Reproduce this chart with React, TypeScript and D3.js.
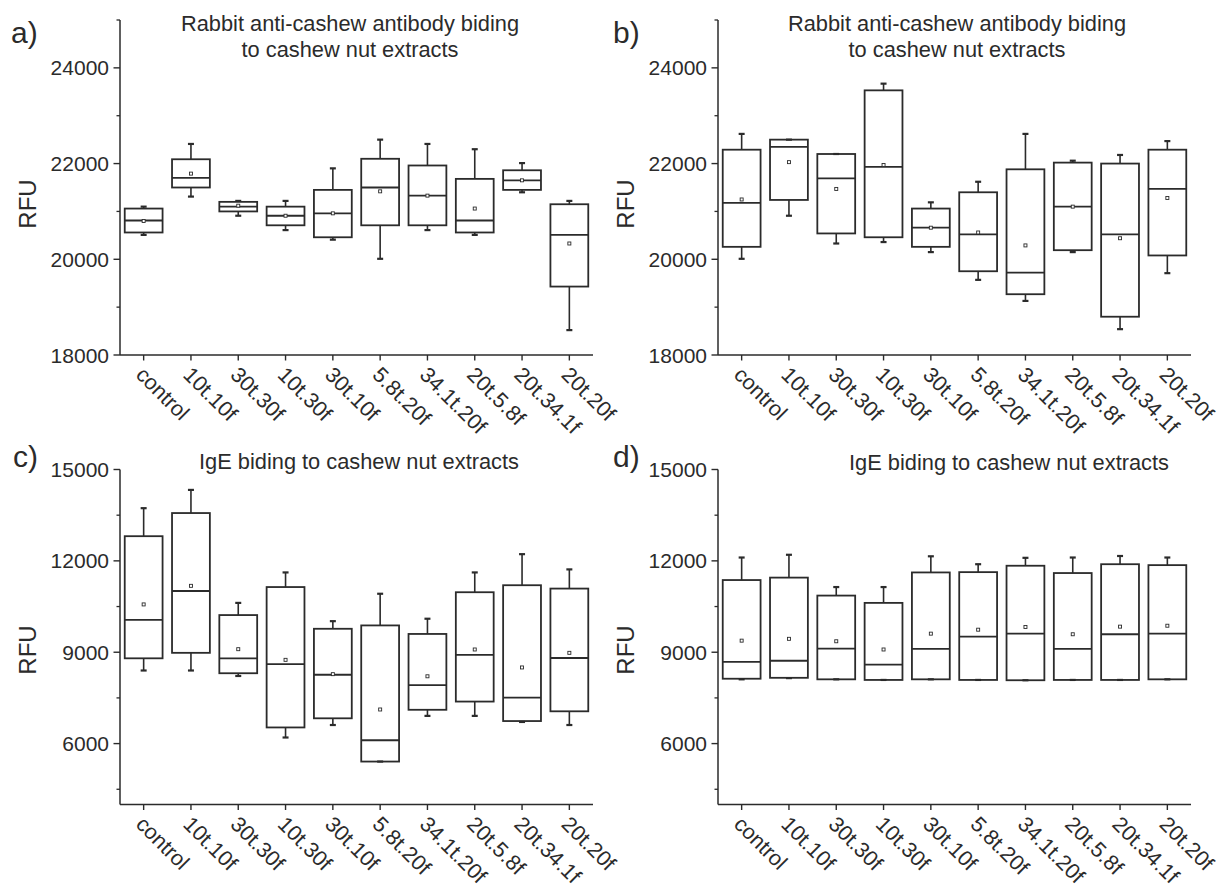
import React from "react";
import * as d3 from "d3";

const categories = [
  "control",
  "10t.10f",
  "30t.30f",
  "10t.30f",
  "30t.10f",
  "5.8t.20f",
  "34.1t.20f",
  "20t.5.8f",
  "20t.34.1f",
  "20t.20f",
];

// panel a - rabbit antibody
const aMax = [21100, 22410, 21220, 21220, 21900, 22500, 22410, 22300, 22010, 21220];
const aQ3 = [21060, 22090, 21200, 21100, 21450, 22100, 21960, 21680, 21860, 21150];
const aMed = [20810, 21700, 21100, 20910, 20960, 21500, 21330, 20810, 21650, 20510];
const aQ1 = [20560, 21500, 21000, 20710, 20460, 20710, 20710, 20560, 21450, 19430];
const aMin = [20510, 21310, 20910, 20610, 20410, 20010, 20610, 20510, 21400, 18520];
const aMean = [20800, 21790, 21120, 20910, 20960, 21420, 21330, 21060, 21650, 20330];

// panel b - rabbit antibody
const bMax = [22620, 22500, 22200, 23670, 21190, 21620, 22620, 22060, 22180, 22470];
const bQ3 = [22290, 22500, 22200, 23530, 21060, 21400, 21880, 22020, 22000, 22290];
const bMed = [21180, 22350, 21690, 21930, 20660, 20520, 19720, 21100, 20520, 21470];
const bQ1 = [20260, 21240, 20540, 20460, 20260, 19750, 19270, 20190, 18800, 20080];
const bMin = [20010, 20910, 20330, 20360, 20150, 19570, 19130, 20150, 18540, 19710];
const bMean = [21250, 22030, 21470, 21970, 20660, 20560, 20290, 21100, 20440, 21280];

// panel c - IgE
const cMax = [13730, 14330, 10620, 11620, 10020, 10920, 10100, 11620, 12220, 11720];
const cQ3 = [12810, 13570, 10220, 11140, 9770, 9880, 9600, 10970, 11200, 11090];
const cMed = [10060, 11010, 8800, 8610, 8260, 6110, 7920, 8910, 7510, 8810];
const cQ1 = [8800, 8980, 8310, 6530, 6830, 5410, 7110, 7380, 6740, 7060];
const cMin = [8400, 8400, 8220, 6200, 6610, 5410, 6910, 6910, 6710, 6610];
const cMean = [10570, 11180, 9100, 8750, 8280, 7120, 8210, 9090, 8500, 8980];

// panel d - IgE
const dMax = [12110, 12200, 11140, 11140, 12150, 11890, 12100, 12110, 12160, 12110];
const dQ3 = [11370, 11450, 10860, 10620, 11620, 11630, 11840, 11600, 11890, 11860];
const dMed = [8680, 8720, 9120, 8590, 9110, 9510, 9610, 9110, 9590, 9610];
const dQ1 = [8130, 8160, 8110, 8090, 8110, 8090, 8080, 8090, 8090, 8110];
const dMin = [8110, 8150, 8110, 8090, 8110, 8090, 8080, 8090, 8090, 8110];
const dMean = [9380, 9440, 9360, 9090, 9610, 9740, 9830, 9590, 9840, 9870];

const rabbitTicks = [18000, 20000, 22000, 24000];
const rabbitMinor = [19000, 21000, 23000, 25000];
const igeTicks = [6000, 9000, 12000, 15000];
const igeMinor = [4500, 7500, 10500, 13500];

const rabbitTitle = ["Rabbit anti-cashew antibody biding", "to cashew nut extracts"];
const igeTitle = ["IgE biding to cashew nut extracts"];

const FONT = "'Liberation Sans', Arial, sans-serif";
const INK = "#2b2b2b";

type PanelProps = {
  letter: string;
  letterX: number;
  letterY: number;
  left: number;
  right: number;
  top: number;
  bottom: number;
  domain: [number, number];
  ticks: number[];
  minor: number[];
  title: string[];
  titleX: number;
  titleY: number;
  labelY: number;
  min: number[];
  q1: number[];
  med: number[];
  q3: number[];
  max: number[];
  mean: number[];
};

const Panel = (p: PanelProps) => {
  const x = d3
    .scaleBand()
    .domain(categories)
    .range([p.left, p.right])
    .paddingInner(0.2)
    .paddingOuter(0.1);
  const y = d3.scaleLinear().domain(p.domain).range([p.bottom, p.top]);
  const bw = x.bandwidth();

  return (
    <g fontFamily={FONT} fill={INK}>
      <text x={p.letterX} y={p.letterY} fontSize={30}>
        {p.letter}
      </text>
      {p.title.map((t, i) => (
        <text key={t} x={p.titleX} y={p.titleY + i * 26} fontSize={21.8} textAnchor="middle">
          {t}
        </text>
      ))}
      <text
        transform={`translate(${p.left - 84},${p.labelY}) rotate(-90)`}
        fontSize={24}
        textAnchor="middle"
      >
        RFU
      </text>

      {/* axes */}
      <line x1={p.left} x2={p.left} y1={p.top} y2={p.bottom} stroke={INK} strokeWidth={1.5} />
      <line x1={p.left} x2={p.right} y1={p.bottom} y2={p.bottom} stroke={INK} strokeWidth={1.5} />
      {p.ticks.map((t) => (
        <g key={t}>
          <line x1={p.left - 6.5} x2={p.left} y1={y(t)} y2={y(t)} stroke={INK} strokeWidth={1.4} />
          <text x={p.left - 11} y={y(t)} dy="0.36em" fontSize={21} textAnchor="end">
            {t}
          </text>
        </g>
      ))}
      {p.minor.map((t) => (
        <line key={t} x1={p.left - 3.5} x2={p.left} y1={y(t)} y2={y(t)} stroke={INK} strokeWidth={1.3} />
      ))}
      {categories.map((c) => {
        const cx = x(c)! + bw / 2;
        return (
          <g key={c}>
            <line x1={cx} x2={cx} y1={p.bottom} y2={p.bottom + 5.5} stroke={INK} strokeWidth={1.4} />
            <text transform={`translate(${cx - 9},${p.bottom + 21}) rotate(45)`} fontSize={21.5}>
              {c}
            </text>
          </g>
        );
      })}

      {/* boxes */}
      {categories.map((c, i) => {
        const cx = x(c)! + bw / 2;
        const x0 = x(c)!;
        return (
          <g key={c} stroke={INK} fill="none">
            <line x1={cx} x2={cx} y1={y(p.q3[i])} y2={y(p.max[i])} strokeWidth={1.6} />
            <line x1={cx} x2={cx} y1={y(p.q1[i])} y2={y(p.min[i])} strokeWidth={1.6} />
            <line x1={cx - 3} x2={cx + 3} y1={y(p.max[i])} y2={y(p.max[i])} strokeWidth={2.2} />
            <line x1={cx - 3} x2={cx + 3} y1={y(p.min[i])} y2={y(p.min[i])} strokeWidth={2.2} />
            <rect
              x={x0}
              y={y(p.q3[i])}
              width={bw}
              height={y(p.q1[i]) - y(p.q3[i])}
              strokeWidth={1.8}
            />
            <line x1={x0} x2={x0 + bw} y1={y(p.med[i])} y2={y(p.med[i])} strokeWidth={1.8} />
            <rect
              x={cx - 1.5}
              y={y(p.mean[i]) - 1.5}
              width={3}
              height={3}
              strokeWidth={0.9}
              fill="#fff"
            />
          </g>
        );
      })}
    </g>
  );
};

const App = () => {
  return (
    <div style={{ position: "absolute", left: 0, top: 0 }}>
      <svg width={1226} height={889} style={{ display: "block", background: "#fff" }}>
        <Panel
          letter="a)"
          letterX={11}
          letterY={43}
          left={120}
          right={593}
          top={20}
          bottom={355}
          domain={[18000, 25000]}
          ticks={rabbitTicks}
          minor={rabbitMinor}
          title={rabbitTitle}
          titleX={350}
          titleY={31}
          labelY={204}
          min={aMin}
          q1={aQ1}
          med={aMed}
          q3={aQ3}
          max={aMax}
          mean={aMean}
        />
        <Panel
          letter="b)"
          letterX={613}
          letterY={43}
          left={718}
          right={1191}
          top={20}
          bottom={355}
          domain={[18000, 25000]}
          ticks={rabbitTicks}
          minor={rabbitMinor}
          title={rabbitTitle}
          titleX={957}
          titleY={31}
          labelY={204}
          min={bMin}
          q1={bQ1}
          med={bMed}
          q3={bQ3}
          max={bMax}
          mean={bMean}
        />
        <Panel
          letter="c)"
          letterX={13}
          letterY={467}
          left={120}
          right={593}
          top={469.5}
          bottom={804.5}
          domain={[4000, 15000]}
          ticks={igeTicks}
          minor={igeMinor}
          title={igeTitle}
          titleX={359}
          titleY={469}
          labelY={650}
          min={cMin}
          q1={cQ1}
          med={cMed}
          q3={cQ3}
          max={cMax}
          mean={cMean}
        />
        <Panel
          letter="d)"
          letterX={613}
          letterY={467}
          left={718}
          right={1191}
          top={469.5}
          bottom={804.5}
          domain={[4000, 15000]}
          ticks={igeTicks}
          minor={igeMinor}
          title={igeTitle}
          titleX={1009}
          titleY={470}
          labelY={650}
          min={dMin}
          q1={dQ1}
          med={dMed}
          q3={dQ3}
          max={dMax}
          mean={dMean}
        />
      </svg>
    </div>
  );
};

export default App;
